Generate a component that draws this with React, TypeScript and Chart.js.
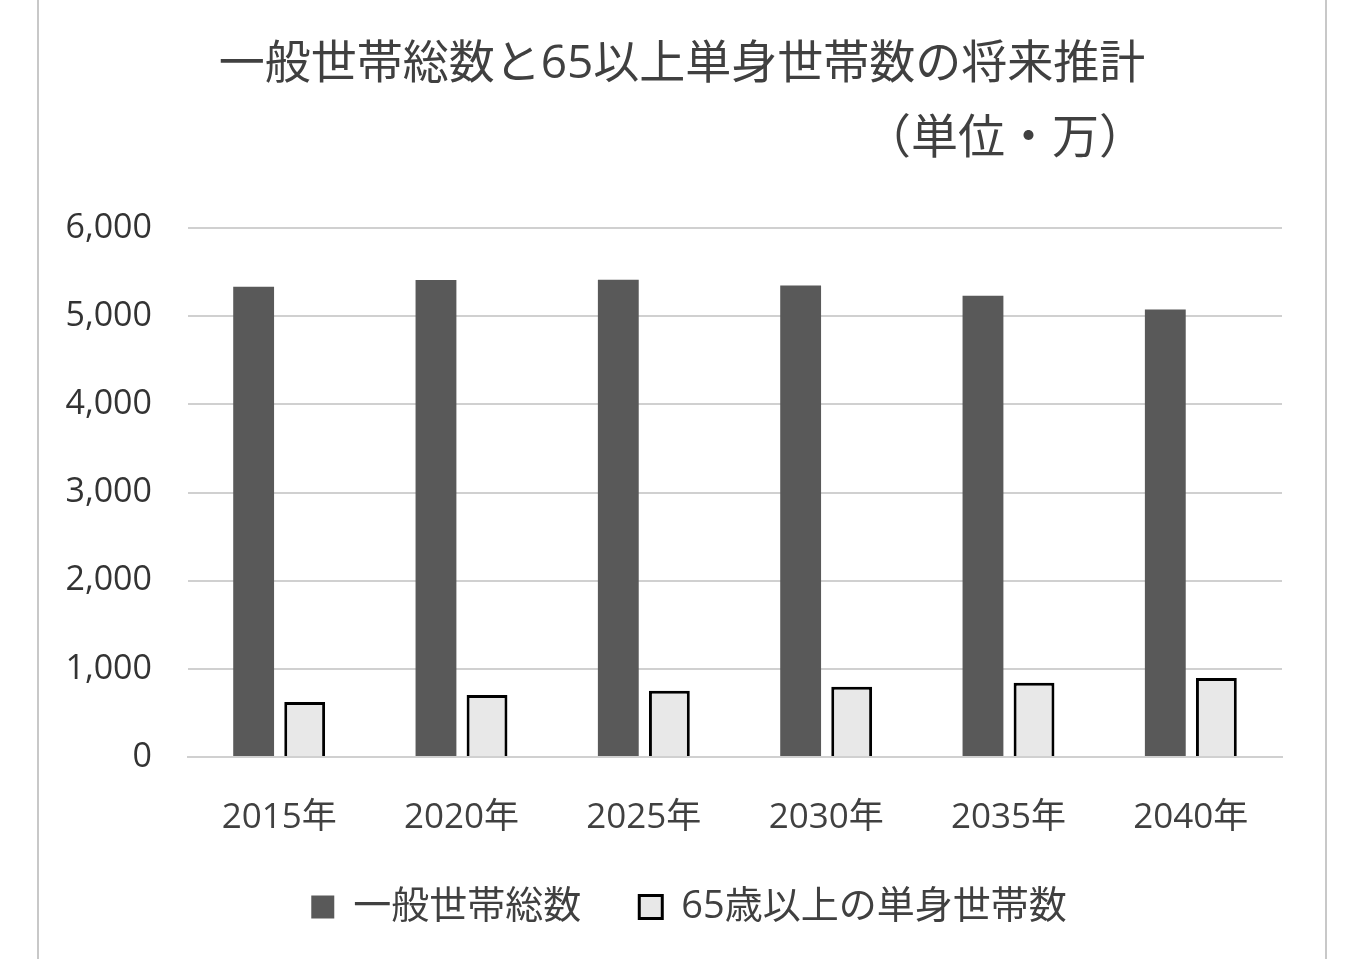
import { useEffect, useRef } from 'react';
import { Chart, registerables, type Plugin } from 'chart.js';

Chart.register(...registerables);

const YEARS = ['2015年', '2020年', '2025年', '2030年', '2035年', '2040年'];
const TOTAL_HOUSEHOLDS = [5333, 5411, 5412, 5348, 5232, 5076];
const SINGLE_65_PLUS = [625, 703, 751, 796, 842, 896];

const TITLE = '一般世帯総数と65以上単身世帯数の将来推計';
const UNIT = '（単位・万）';

const FONT = '"Open Sans", "Noto Sans CJK JP", sans-serif';
const TEXT = '#404040';
const GRID = '#d0d0d0';

// the two title lines are not centred on the plot, so draw them by hand
const titleLines: Plugin<'bar'> = {
  id: 'titleLines',
  afterDraw(chart) {
    const { ctx } = chart;
    ctx.save();
    ctx.fillStyle = TEXT;
    ctx.textAlign = 'center';
    ctx.textBaseline = 'middle';
    ctx.font = `46px ${FONT}`;
    ctx.fillText(TITLE, 642, 65);
    ctx.font = `47px ${FONT}`;
    ctx.fillText(UNIT, 965, 140);
    ctx.restore();
  },
};

// legend in the original sits a little right of the layout centre
const legendNudge: Plugin<'bar'> = {
  id: 'legendNudge',
  afterLayout(chart) {
    const lg = chart.legend;
    if (!lg) return;
    lg.left += 18;
    lg.right += 18;
  },
};

export default function App() {
  const canvasRef = useRef<HTMLCanvasElement>(null);

  useEffect(() => {
    if (!canvasRef.current) return;
    const chart = new Chart(canvasRef.current, {
      type: 'bar',
      data: {
        labels: YEARS,
        datasets: [
          {
            label: '一般世帯総数',
            data: TOTAL_HOUSEHOLDS,
            backgroundColor: '#595959',
            borderWidth: 0,
            categoryPercentage: 0.56,
            barPercentage: 0.8,
          },
          {
            label: '65歳以上の単身世帯数',
            data: SINGLE_65_PLUS,
            backgroundColor: '#e8e8e8',
            borderColor: '#000000',
            borderWidth: 3,
            categoryPercentage: 0.56,
            barPercentage: 0.8,
          },
        ],
      },
      options: {
        animation: false,
        responsive: true,
        maintainAspectRatio: false,
        layout: { padding: { left: 20, right: 41, top: 228, bottom: 23 } },
        plugins: {
          title: { display: false },
          legend: {
            position: 'bottom',
            labels: {
              color: TEXT,
              font: { family: FONT, size: 38 },
              boxWidth: 23,
              boxHeight: 23,
              padding: 20,
              generateLabels: (c) =>
                Chart.defaults.plugins.legend.labels.generateLabels(c).map((item, i, all) =>
                  i < all.length - 1 ? { ...item, text: item.text + '\u3000' } : item,
                ),
            },
          },
          tooltip: { enabled: false },
        },
        scales: {
          x: {
            grid: { display: false },
            border: { color: GRID, width: 2 },
            afterFit: (s) => {
              s.height -= 3;
            },
            ticks: { color: TEXT, font: { family: FONT, size: 35 }, padding: 32 },
          },
          y: {
            min: 0,
            max: 6000,
            afterFit: (s) => {
              s.width = 128;
            },
            grid: { color: GRID, lineWidth: 2, drawTicks: false },
            border: { display: false },
            ticks: {
              stepSize: 1000,
              color: '#333333',
              font: { family: FONT, size: 34 },
              padding: 36,
              callback: (v) => Number(v).toLocaleString('en-US'),
            },
          },
        },
      },
      plugins: [titleLines, legendNudge],
    });
    return () => chart.destroy();
  }, []);

  return (
    <div style={{ position: 'fixed', inset: 0, background: '#fff', overflow: 'hidden' }}>
      <div
        style={{
          position: 'absolute',
          left: 37,
          top: -10,
          width: 1286,
          height: 1000,
          border: '2px solid #c8c8c8',
        }}
      />
      <div style={{ position: 'absolute', left: 40, top: 0, width: 1283, height: 959 }}>
        <canvas ref={canvasRef} />
      </div>
    </div>
  );
}
